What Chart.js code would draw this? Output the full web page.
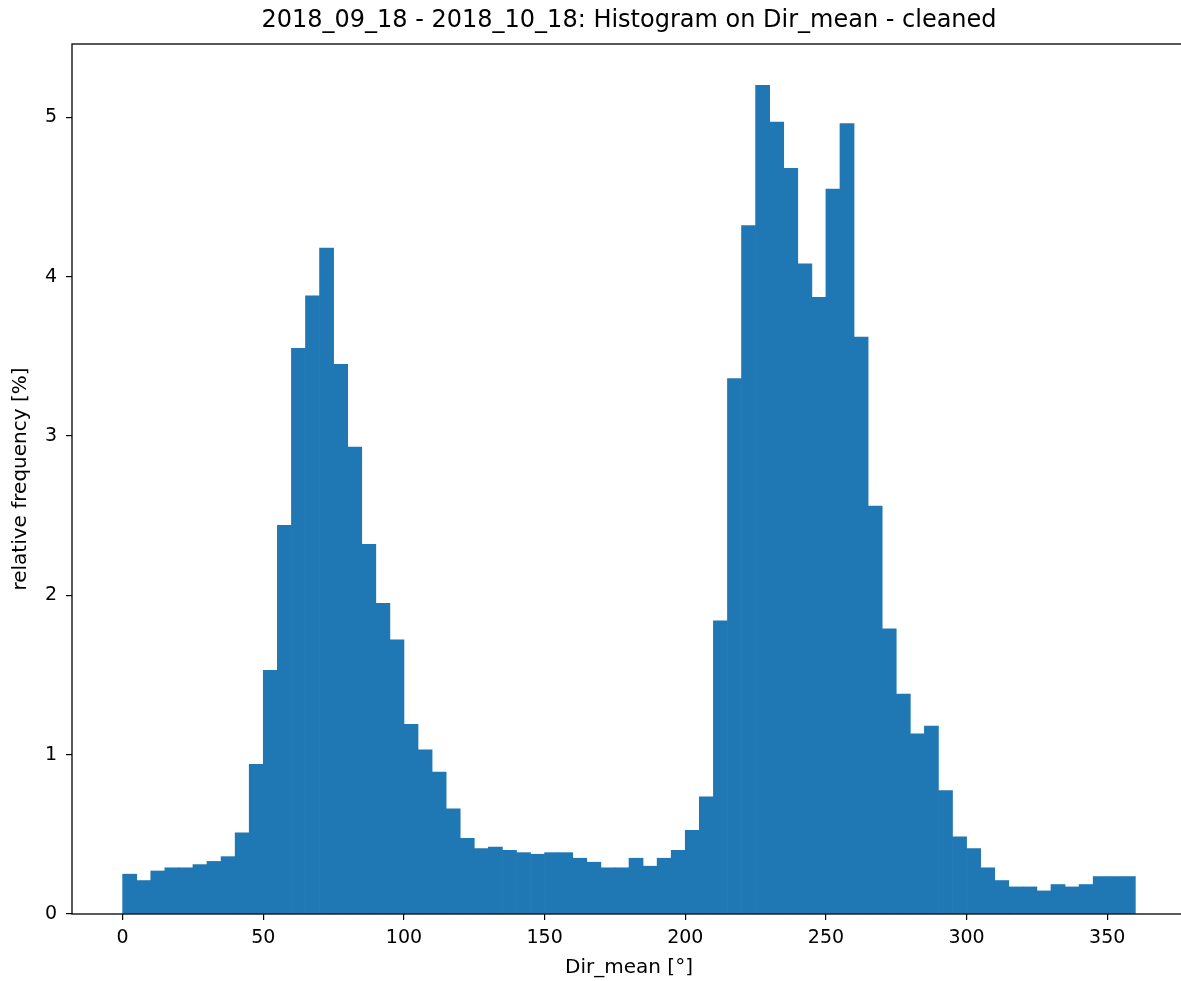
<!DOCTYPE html>
<html>
<head>
<meta charset="utf-8">
<script src="https://cdn.jsdelivr.net/npm/chart.js@4/dist/chart.umd.min.js"></script>
<style>
  html, body { margin: 0; padding: 0; background: #fff; overflow: hidden; }
  #wrap { width: 1190px; height: 981px; }
</style>
</head>
<body>
<div id="wrap"><canvas id="histChart" width="1190" height="981"></canvas></div>
<script>
// histogram bins (5 degree wide), centers of each bin
const binCenters = [
  2.5, 7.5, 12.5, 17.5, 22.5, 27.5, 32.5, 37.5, 42.5, 47.5,
  52.5, 57.5, 62.5, 67.5, 72.5, 77.5, 82.5, 87.5, 92.5, 97.5,
  102.5, 107.5, 112.5, 117.5, 122.5, 127.5, 132.5, 137.5, 142.5, 147.5,
  152.5, 157.5, 162.5, 167.5, 172.5, 177.5, 182.5, 187.5, 192.5, 197.5,
  202.5, 207.5, 212.5, 217.5, 222.5, 227.5, 232.5, 237.5, 242.5, 247.5,
  252.5, 257.5, 262.5, 267.5, 272.5, 277.5, 282.5, 287.5, 292.5, 297.5,
  302.5, 307.5, 312.5, 317.5, 322.5, 327.5, 332.5, 337.5, 342.5, 347.5,
  352.5, 357.5
];

// relative frequency [%] per bin
const relFreq = [
  0.25, 0.21, 0.27, 0.29, 0.29, 0.31, 0.33, 0.36, 0.51, 0.94,
  1.53, 2.44, 3.55, 3.88, 4.18, 3.45, 2.93, 2.32, 1.95, 1.72,
  1.19, 1.03, 0.89, 0.66, 0.475, 0.41, 0.42, 0.40, 0.385, 0.375,
  0.385, 0.385, 0.35, 0.325, 0.29, 0.29, 0.35, 0.30, 0.35, 0.40,
  0.525, 0.735, 1.84, 3.36, 4.32, 5.20, 4.97, 4.68, 4.08, 3.87,
  4.55, 4.96, 3.62, 2.56, 1.79, 1.38, 1.13, 1.18, 0.775, 0.485,
  0.41, 0.29, 0.21, 0.17, 0.17, 0.145, 0.185, 0.17, 0.185, 0.235,
  0.235, 0.235
];

const xTicks = [0, 50, 100, 150, 200, 250, 300, 350];
const yTicks = [0, 1, 2, 3, 4, 5];

const titleText = '2018_09_18 - 2018_10_18: Histogram on Dir_mean - cleaned';
const xLabel = 'Dir_mean [°]';
const yLabel = 'relative frequency [%]';

const fontFamily = "'DejaVu Sans', sans-serif";

// spines on top of the bars + title centred over the axes (like matplotlib)
const framePlugin = {
  id: 'frame',
  afterDraw(chart) {
    const { ctx, chartArea } = chart;
    ctx.save();
    ctx.strokeStyle = '#000';
    ctx.lineWidth = 1.3;
    ctx.strokeRect(chartArea.left, chartArea.top,
      chartArea.right - chartArea.left, chartArea.bottom - chartArea.top);

    ctx.fillStyle = '#000';
    ctx.font = '24px ' + fontFamily;
    ctx.textAlign = 'center';
    ctx.textBaseline = 'middle';
    ctx.fillText(titleText, (chartArea.left + chartArea.right) / 2, 21);
    ctx.restore();
  }
};

const ctx = document.getElementById('histChart').getContext('2d');

new Chart(ctx, {
  type: 'bar',
  data: {
    datasets: [{
      data: binCenters.map((x, i) => ({ x: x, y: relFreq[i] })),
      backgroundColor: '#1f77b4',
      borderWidth: 0,
      barPercentage: 1.0,
      categoryPercentage: 1.0,
      grouped: false
    }]
  },
  plugins: [framePlugin],
  options: {
    responsive: false,
    devicePixelRatio: 1,
    animation: false,
    layout: { padding: { left: 0, right: 4, top: 44, bottom: 0 } },
    plugins: {
      legend: { display: false },
      tooltip: { enabled: false },
      title: { display: false }
    },
    scales: {
      x: {
        type: 'linear',
        min: -18,
        max: 378,
        offset: false,
        afterFit(scale) { scale.height = 67; },
        afterBuildTicks(scale) { scale.ticks = xTicks.map(v => ({ value: v })); },
        border: { display: false },
        grid: {
          display: true,
          offset: false,
          drawOnChartArea: false,
          drawTicks: true,
          tickLength: 6,
          color: '#000',
          lineWidth: 1.2
        },
        ticks: {
          color: '#000',
          font: { family: fontFamily, size: 19 },
          padding: 7,
          maxRotation: 0,
          autoSkip: false
        },
        title: {
          display: true,
          text: xLabel,
          color: '#000',
          font: { family: fontFamily, size: 20 },
          padding: { top: 0, bottom: 1 }
        }
      },
      y: {
        type: 'linear',
        min: 0,
        max: 5.46,
        afterFit(scale) { scale.width = 72; },
        afterBuildTicks(scale) { scale.ticks = yTicks.map(v => ({ value: v })); },
        border: { display: false },
        grid: {
          display: true,
          drawOnChartArea: false,
          drawTicks: true,
          tickLength: 6,
          color: '#000',
          lineWidth: 1.2
        },
        ticks: {
          color: '#000',
          font: { family: fontFamily, size: 19 },
          padding: 9
        },
        title: {
          display: true,
          text: yLabel,
          color: '#000',
          font: { family: fontFamily, size: 20 },
          padding: { top: 9, bottom: 0 }
        }
      }
    }
  }
});
</script>
</body>
</html>
